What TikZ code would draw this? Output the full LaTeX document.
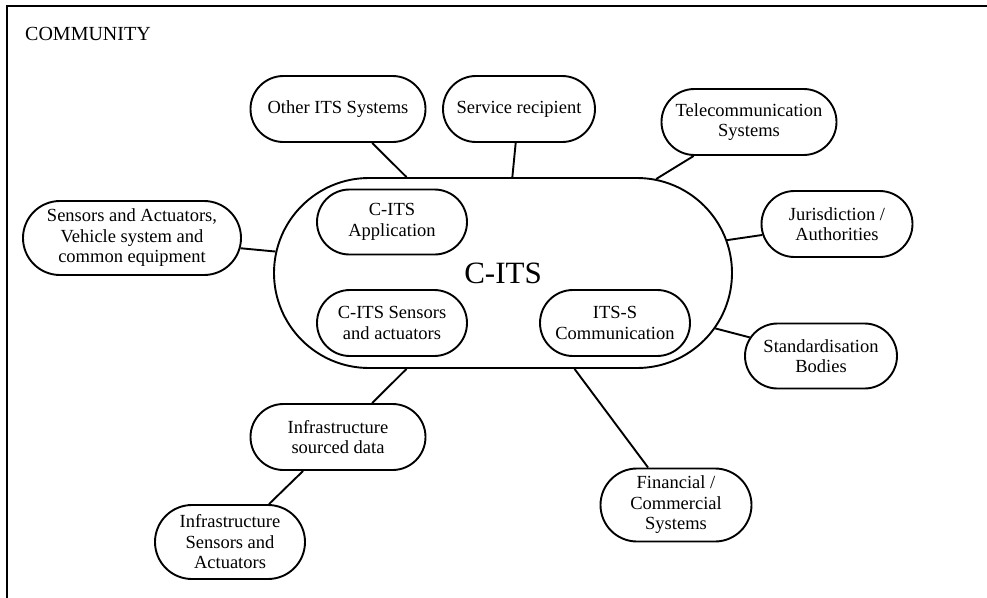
\documentclass[tikz,border=0pt]{standalone}
\usepackage{fontspec}
\setmainfont{Liberation Serif}
\usetikzlibrary{shapes.misc}
\begin{document}
\begin{tikzpicture}[x=1pt,y=-1pt,
  pill/.style={rounded rectangle, draw, line width=1.9pt, inner sep=0pt, align=center,
    font=\fontsize{18.5}{20.5}\selectfont},
  link/.style={line width=1.9pt}]
\useasboundingbox (0,0) rectangle (987,597);
\coordinate (fbl) at (7,605);
\coordinate (ftl) at (7,6);
\coordinate (ftr) at (995,6);
\draw[line width=2pt] (fbl) -- (ftl) -- (ftr);
\node[anchor=base west, inner sep=0pt, font=\fontsize{20}{22}\selectfont] (community) at (25,40) {COMMUNITY};

\node[pill, minimum width=458pt, minimum height=190pt, font=\fontsize{31}{34}\selectfont] (cits) at (503,273) {C-ITS};

\node[pill, minimum width=150pt, minimum height=65pt] (app) at (392,222) {C-ITS\\Application};
\node[pill, minimum width=150pt, minimum height=66pt] (csens) at (392,323) {C-ITS Sensors\\and actuators};
\node[pill, minimum width=150pt, minimum height=66pt] (comm) at (615,323) {ITS-S\\Communication};

\node[pill, minimum width=175pt, minimum height=66pt] (other) at (338,109) {Other ITS Systems};
\node[pill, minimum width=152pt, minimum height=66pt] (service) at (519,109) {Service recipient};
\node[pill, minimum width=175pt, minimum height=66pt] (telecom) at (749,122) {Telecommunication\\Systems};
\node[pill, minimum width=151pt, minimum height=66pt] (juris) at (837,224) {Jurisdiction /\\Authorities};
\node[pill, minimum width=218pt, minimum height=74pt] (sensors) at (132,238) {Sensors and Actuators,\\Vehicle system and\\common equipment};
\node[pill, minimum width=152pt, minimum height=65pt] (standard) at (821,356) {Standardisation\\Bodies};
\node[pill, minimum width=175pt, minimum height=66pt] (infdata) at (338,437) {Infrastructure\\sourced data};
\node[pill, minimum width=150pt, minimum height=74pt] (infsens) at (230,542) {Infrastructure\\Sensors and\\Actuators};
\node[pill, minimum width=151pt, minimum height=73pt] (fin) at (676,505) {Financial /\\Commercial\\Systems};

\draw[link] (other) -- (cits);
\draw[link] (service) -- (cits);
\draw[link] (telecom) -- (cits);
\draw[link] (juris) -- (cits);
\draw[link] (sensors) -- (cits);
\draw[link] (standard) -- (cits);
\draw[link] (fin) -- (cits);
\draw[link] (infdata) -- (cits);
\draw[link] (infsens) -- (infdata);
\end{tikzpicture}
\end{document}
